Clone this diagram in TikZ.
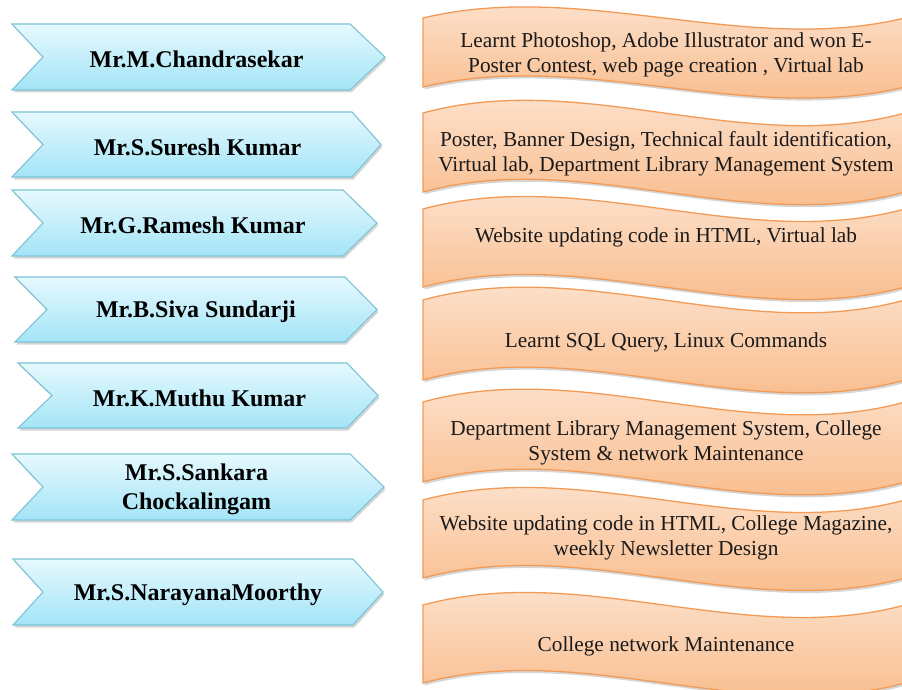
\documentclass[tikz,border=0pt]{standalone}
\usepackage{fontspec}
\setmainfont{Liberation Serif}
\definecolor{chevtop}{HTML}{E6F9FE}
\definecolor{chevbot}{HTML}{A3E4F7}
\definecolor{chevline}{HTML}{7DC3D6}
\definecolor{wavetop}{HTML}{FDE8D8}
\definecolor{wavebot}{HTML}{F8B580}
\definecolor{waveline}{HTML}{F39A55}
\definecolor{txt}{HTML}{1A1A1A}

\tikzset{
  chevshape/.style={top color=chevtop, bottom color=chevbot, draw=chevline, line width=1.1pt, line join=miter},
  waveshape/.style={top color=wavetop, bottom color=wavebot, draw=waveline, line width=1.3pt},
  shadowshape/.style={fill=black, opacity=0.16, draw=none},
  nametext/.style={font=\fontsize{24}{29}\selectfont\bfseries, align=center, text=black},
  wavetext/.style={font=\fontsize{21.3}{25.5}\selectfont, align=center, text=txt},
}

% #1 L, #2 T, #3 B, #4 notch, #5 corner, #6 tip, #7 name, #8 text
\newcommand\mychev[8]{%
  \begin{scope}[shift={(1.5,2.5)}]
    \fill[shadowshape] (#1,#2) -- (#5,#2) -- (#6,{(#2+#3)/2}) -- (#5,#3) -- (#1,#3) -- (#4,{(#2+#3)/2}) -- cycle;
  \end{scope}
  \path[chevshape] (#1,#2) -- (#5,#2) -- (#6,{(#2+#3)/2}) -- (#5,#3) -- (#1,#3) -- (#4,{(#2+#3)/2}) -- cycle;
  \node[nametext] (#7) at ({(#4+#5)/2},{(#2+#3)/2+2.5}) {#8};
}

% #1 y1 (top-left), #2 y4 (bottom-left), #3 name, #4 text, #5 text y
\newcommand\mywave[5]{%
  \pgfmathsetmacro\dyy{0.5556*(#2-#1)}
  \begin{scope}[shift={(1.5,2.5)}]
    \fill[shadowshape] (423,#1) .. controls (583.67,{#1-\dyy}) and (744.33,{#1+\dyy}) .. (905,#1) -- (905,#2) .. controls (744.33,{#2+\dyy}) and (583.67,{#2-\dyy}) .. (423,#2) -- cycle;
  \end{scope}
  \path[waveshape] (423,#1) .. controls (583.67,{#1-\dyy}) and (744.33,{#1+\dyy}) .. (905,#1) -- (905,#2) .. controls (744.33,{#2+\dyy}) and (583.67,{#2-\dyy}) .. (423,#2) -- cycle;
  \node[wavetext] (#3) at (666,#5) {#4};
}

\begin{document}
\begin{tikzpicture}[x=1pt,y=-1pt]
\useasboundingbox (0,0) rectangle (902,690);
\fill[white] (0,0) rectangle (902,690);

\mychev{12}{24}{90}{43}{350}{385}{c1}{Mr.M.Chandrasekar}
\mychev{12}{112}{177}{43}{352}{381}{c2}{Mr.S.Suresh Kumar}
\mychev{12}{190}{256}{43}{343}{377}{c3}{Mr.G.Ramesh Kumar}
\mychev{15}{277}{342}{47}{345}{377}{c4}{Mr.B.Siva Sundarji}
\mychev{18}{363}{428}{52}{347}{378}{c5}{Mr.K.Muthu Kumar}
\mychev{12}{454}{520}{43}{350}{384}{c6}{Mr.S.Sankara\\Chockalingam}
\mychev{13}{559}{625}{43}{353}{383}{c7}{Mr.S.NarayanaMoorthy}

\mywave{18}{87}{w1}{Learnt Photoshop, Adobe Illustrator and won E-\\Poster Contest, web page creation , Virtual lab}{55}
\mywave{113}{192}{w2}{Poster, Banner Design, Technical fault identification,\\Virtual lab, Department Library Management System}{154}
\mywave{209}{287}{w3}{Website updating code in HTML, Virtual lab}{237}
\mywave{300}{380}{w4}{Learnt SQL Query, Linux Commands}{342}
\mywave{402}{482}{w5}{Department Library Management System, College\\System \& network Maintenance}{443}
\mywave{500}{578}{w6}{Website updating code in HTML, College Magazine,\\weekly Newsletter Design}{538}
\mywave{605}{683}{w7}{College network Maintenance}{646}
\end{tikzpicture}
\end{document}
